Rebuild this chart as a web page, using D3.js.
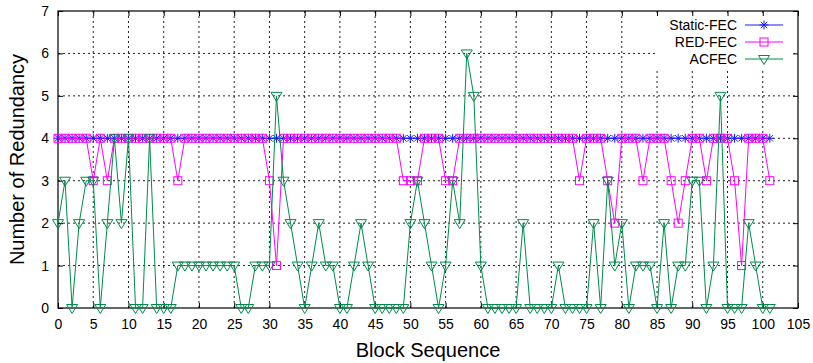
<!DOCTYPE html>
<html>
<head>
<meta charset="utf-8">
<script src="https://cdn.jsdelivr.net/npm/d3@7"></script>
<style>
  body { margin: 0; background: #fff; }
  svg { display: block; font-family: "Liberation Sans", Arial, sans-serif; }
</style>
</head>
<body>
<svg id="chart" width="813" height="363"></svg>
<script>
// block index on the x axis
const blocks = [0,1,2,3,4,5,6,7,8,9,10,11,12,13,14,15,16,17,18,19,20,21,22,23,24,25,26,27,28,29,
  30,31,32,33,34,35,36,37,38,39,40,41,42,43,44,45,46,47,48,49,50,51,52,53,54,55,56,57,58,59,
  60,61,62,63,64,65,66,67,68,69,70,71,72,73,74,75,76,77,78,79,80,81,82,83,84,85,86,87,88,89,
  90,91,92,93,94,95,96,97,98,99,100,101];

const staticFec = [4,4,4,4,4,4,4,4,4,4, 4,4,4,4,4,4,4,4,4,4, 4,4,4,4,4,4,4,4,4,4,
  4,4,4,4,4,4,4,4,4,4, 4,4,4,4,4,4,4,4,4,4, 4,4,4,4,4,4,4,4,4,4, 4,4,4,4,4,4,4,4,4,4,
  4,4,4,4,4,4,4,4,4,4, 4,4,4,4,4,4,4,4,4,4, 4,4,4,4,4,4,4,4,4,4, 4,4];

const redFec = [4,4,4,4,4,3,4,3,4,4, 4,4,4,4,4,4,4,3,4,4, 4,4,4,4,4,4,4,4,4,4,
  3,1,4,4,4,4,4,4,4,4, 4,4,4,4,4,4,4,4,4,3, 3,3,4,4,4,3,3,4,4,4, 4,4,4,4,4,4,4,4,4,4,
  4,4,4,4,3,4,4,4,3,2, 4,4,4,3,4,4,4,3,2,3, 4,4,3,4,4,4,3,1,4,4, 4,3];

const acfec = [2,3,0,2,3,3,0,2,4,2, 4,0,0,4,0,0,0,1,1,1, 1,1,1,1,1,1,0,0,1,1,
  1,5,3,2,1,0,1,2,1,1, 0,0,1,2,1,0,0,0,0,0, 2,3,2,1,0,1,3,2,6,5, 1,0,0,0,0,0,2,0,0,0,
  0,1,0,0,0,0,2,0,3,1, 2,0,1,1,1,0,2,0,1,1, 3,3,0,1,5,0,0,0,2,1, 0,0];

const xTicks = [0,5,10,15,20,25,30,35,40,45,50,55,60,65,70,75,80,85,90,95,100,105];
const yTicks = [0,1,2,3,4,5,6,7];
const seriesNames = ["Static-FEC", "RED-FEC", "ACFEC"];

const margin = {top: 11, right: 15, bottom: 55, left: 58};
const W = 813, H = 363;

const svg = d3.select("#chart");

const x = d3.scaleLinear().domain([0, 105]).range([margin.left, W - margin.right]);
const y = d3.scaleLinear().domain([0, 7]).range([H - margin.bottom, margin.top]);

// grid
const grid = svg.append("g").attr("class", "grid");
grid.selectAll(".gx")
    .data(xTicks.filter(d => d > 0 && d < 105))
    .enter().append("line")
    .attr("x1", d => x(d)).attr("x2", d => x(d))
    .attr("y1", y(0)).attr("y2", y(7))
    .attr("stroke", "#222").attr("stroke-width", 1)
    .attr("stroke-dasharray", "2,3");
grid.selectAll(".gy")
    .data(yTicks.filter(d => d > 0 && d < 7))
    .enter().append("line")
    .attr("x1", x(0)).attr("x2", x(105))
    .attr("y1", d => y(d)).attr("y2", d => y(d))
    .attr("stroke", "#222").attr("stroke-width", 1)
    .attr("stroke-dasharray", "2,3");

// legend background hides the grid behind it
svg.append("rect")
    .attr("x", 656).attr("y", 14)
    .attr("width", 138).attr("height", 54)
    .attr("fill", "#fff");

// axes with inward ticks, mirrored on top and right
const fmt = d3.format("d");
const axisB = svg.append("g")
    .attr("transform", "translate(0," + y(0) + ")")
    .call(d3.axisBottom(x).tickValues(xTicks).tickFormat(fmt).tickSizeInner(-5).tickSizeOuter(0).tickPadding(11));
const axisT = svg.append("g")
    .attr("transform", "translate(0," + y(7) + ")")
    .call(d3.axisTop(x).tickValues(xTicks).tickSizeInner(-5).tickSizeOuter(0).tickFormat(""));
const axisL = svg.append("g")
    .attr("transform", "translate(" + x(0) + ",0)")
    .call(d3.axisLeft(y).tickValues(yTicks).tickFormat(fmt).tickSizeInner(-5).tickSizeOuter(0).tickPadding(9));
const axisR = svg.append("g")
    .attr("transform", "translate(" + x(105) + ",0)")
    .call(d3.axisRight(y).tickValues(yTicks).tickSizeInner(-5).tickSizeOuter(0).tickFormat(""));

[axisB, axisT, axisL, axisR].forEach(a => {
    a.select(".domain").remove();
    a.selectAll("line").attr("stroke", "#000");
    a.selectAll("text").attr("fill", "#000").style("font-size", "14px")
        .style("font-family", "'Liberation Sans', Arial, sans-serif");
});

// frame
svg.append("rect")
    .attr("x", x(0)).attr("y", y(7))
    .attr("width", x(105) - x(0)).attr("height", y(0) - y(7))
    .attr("fill", "none").attr("stroke", "#000").attr("stroke-width", 1.2);

// axis titles
svg.append("text")
    .attr("x", (x(0) + x(105)) / 2).attr("y", 357)
    .attr("text-anchor", "middle")
    .style("font-size", "20px")
    .text("Block Sequence");
svg.append("text")
    .attr("transform", "translate(24," + (y(3.5)) + ") rotate(-90)")
    .attr("text-anchor", "middle")
    .style("font-size", "20px")
    .text("Number of Redundancy");

const line = d3.line()
    .x((d, i) => x(blocks[i]))
    .y(d => y(d));

const colors = {static: "#1a1aff", red: "#ff00ff", ac: "#008a4c"};

function star(g, cx, cy, c) {
    const r = 4.5, q = 3.2;
    g.append("path")
        .attr("d", "M" + (cx - r) + "," + cy + "H" + (cx + r) + "M" + cx + "," + (cy - r) + "V" + (cy + r) +
            "M" + (cx - q) + "," + (cy - q) + "L" + (cx + q) + "," + (cy + q) +
            "M" + (cx - q) + "," + (cy + q) + "L" + (cx + q) + "," + (cy - q))
        .attr("stroke", c).attr("stroke-width", 1).attr("fill", "none");
}
function box(g, cx, cy, c) {
    g.append("rect")
        .attr("x", cx - 4).attr("y", cy - 4)
        .attr("width", 8).attr("height", 8)
        .attr("fill", "none").attr("stroke", c).attr("stroke-width", 1);
}
function tri(g, cx, cy, c) {
    g.append("path")
        .attr("d", "M" + (cx - 5.5) + "," + (cy - 3.5) + "L" + (cx + 5.5) + "," + (cy - 3.5) + "L" + cx + "," + (cy + 5.5) + "Z")
        .attr("fill", "none").attr("stroke", c).attr("stroke-width", 1);
}

// STATIC-FEC
const gS = svg.append("g");
gS.append("path").datum(staticFec).attr("d", line)
    .attr("fill", "none").attr("stroke", colors.static).attr("stroke-width", 1);
staticFec.forEach((d, i) => star(gS, x(blocks[i]), y(d), colors.static));

// RED-FEC
const gR = svg.append("g");
gR.append("path").datum(redFec).attr("d", line)
    .attr("fill", "none").attr("stroke", colors.red).attr("stroke-width", 1);
redFec.forEach((d, i) => box(gR, x(blocks[i]), y(d), colors.red));

// ACFEC
const gA = svg.append("g");
gA.append("path").datum(acfec).attr("d", line)
    .attr("fill", "none").attr("stroke", colors.ac).attr("stroke-width", 1);
acfec.forEach((d, i) => tri(gA, x(blocks[i]), y(d), colors.ac));

// legend
const legend = svg.append("g");
const markers = [star, box, tri];
const legColors = [colors.static, colors.red, colors.ac];
seriesNames.forEach((name, i) => {
    const ly = 25 + i * 17;
    legend.append("text")
        .attr("x", 737).attr("y", ly)
        .attr("dy", "0.35em")
        .attr("text-anchor", "end")
        .style("font-size", "14px")
        .text(name);
    legend.append("line")
        .attr("x1", 745).attr("x2", 783)
        .attr("y1", ly).attr("y2", ly)
        .attr("stroke", legColors[i]).attr("stroke-width", 1);
    markers[i](legend, 764, ly, legColors[i]);
});
</script>
</body>
</html>
